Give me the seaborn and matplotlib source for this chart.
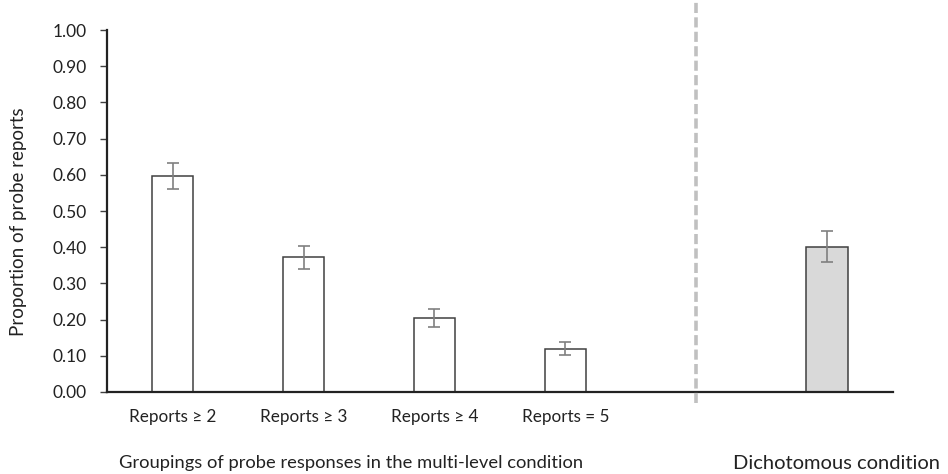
import numpy as np
import pandas as pd
import matplotlib
matplotlib.use("Agg")
import matplotlib.pyplot as plt
import seaborn as sns

# Data
labels = ["Reports \u2265 2", "Reports \u2265 3", "Reports \u2265 4", "Reports = 5", "Dichotomous"]
values = [0.597, 0.372, 0.205, 0.120, 0.401]
errors = [0.036, 0.032, 0.025, 0.019, 0.043]
groups = ["multi", "multi", "multi", "multi", "dich"]
yticks = np.arange(0, 1.01, 0.1)

df = pd.DataFrame({"label": labels, "value": values, "group": groups})

sns.set_style("white")
plt.rcParams["font.family"] = ["Lato", "DejaVu Sans"]

fig = plt.figure(figsize=(9.48, 4.74), dpi=100)
ax = fig.add_axes([0.1129, 0.173, 0.829, 0.7637])

# empty spacer slot between the two conditions
order = labels[:4] + ["spacer"] + labels[4:]
sns.barplot(data=df, x="label", y="value", hue="group", order=order,
            palette={"multi": "white", "dich": "#d9d9d9"}, dodge=False,
            width=0.32, errorbar=None, edgecolor="#404040", linewidth=1.1,
            legend=False, ax=ax)

# error bars centred on each bar
pos = [order.index(l) for l in labels]
ax.errorbar(pos, values, yerr=errors, fmt="none", ecolor="#808080",
            elinewidth=1.2, capsize=4, capthick=1.2, zorder=5)

# separator between the conditions
ax.axvline(4, ymin=-0.03, ymax=1.083, color="#c0c0c0", lw=2.6,
           ls=(0, (2.8, 1.2)), clip_on=False, zorder=6)

ax.set_xlim(-0.5, 5.5)
ax.set_ylim(0, 1.0)
ax.set_yticks(yticks)
ax.set_yticklabels([f"{t:.2f}" for t in yticks], fontsize=12.5, color="#222222")
ax.set_xticks(range(4))
ax.set_xticklabels(labels[:4], fontsize=12.3, color="#222222")
ax.tick_params(axis="x", length=0, pad=12)
ax.tick_params(axis="y", length=5, width=1, color="#404040", pad=9.4, left=True)

for s in ["top", "right"]:
    ax.spines[s].set_visible(False)
for s in ["left", "bottom"]:
    ax.spines[s].set_color("#222222")
    ax.spines[s].set_linewidth(1.6)

ax.set_xlabel("")
ax.set_ylabel("Proportion of probe reports", fontsize=13.5, color="#222222")
ax.yaxis.set_label_coords(-0.102, 0.47)

fig.text(0.370, 0.023, "Groupings of probe responses in the multi-level condition",
         ha="center", va="center", fontsize=13.2, color="#222222")
fig.text(0.882, 0.023, "Dichotomous condition",
         ha="center", va="center", fontsize=14.5, color="#222222")

fig.savefig("out.png", dpi=100)
